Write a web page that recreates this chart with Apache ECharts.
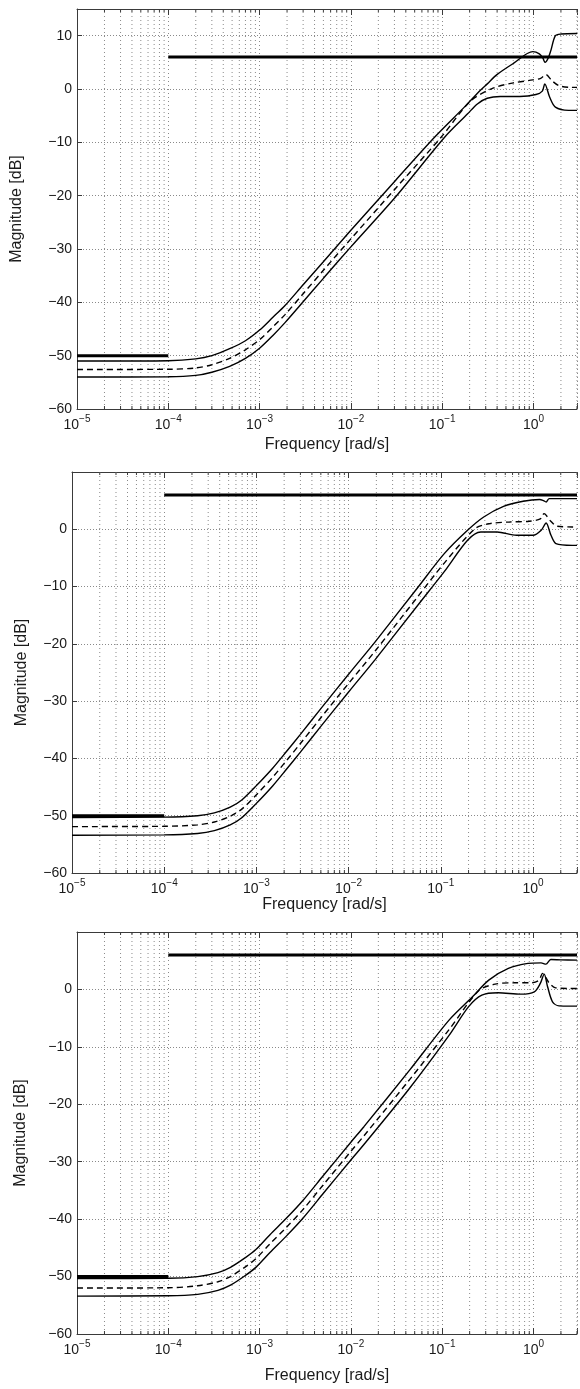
<!DOCTYPE html>
<html><head><meta charset="utf-8">
<script src="https://cdn.jsdelivr.net/npm/echarts@6/dist/echarts.min.js"></script>
<style>html,body{margin:0;padding:0;background:#fff}#c{width:580px;height:1389px}</style>
</head><body><div id="c"></div>
<script>
// ---- axis definitions ----
const xDecades = [1e-5, 1e-4, 1e-3, 1e-2, 1e-1, 1e0];
const minorMultipliers = [2, 3, 4, 5, 6, 7, 8, 9];
const freqMin = 1e-5, freqMax = 3;
const yMin = -60;
const yStep = 10;

// ---- bounds (thick lines) ----
const boundHigh = [[1e-4, 6], [3, 6]];
const boundLow = [[1e-5, -50], [1e-4, -50]];

// ---- panel 1 ----
const p1Upper = [[1e-5,-51.0],[3e-5,-51.0],[1e-4,-50.95],[2e-4,-50.6],[3e-4,-50.0],[4.7e-4,-48.7],[7e-4,-47.2],[1e-3,-45.2],[1.4e-3,-42.8],[1.9e-3,-40.6],[3e-3,-36.7],[5e-3,-32.4],[1e-2,-26.5],[3.1e-2,-17.1],[8.3e-2,-9.0],[0.175,-3.4],[0.264,-0.2],[0.312,0.96],[0.398,2.7],[0.603,4.8],[0.984,7.0],[1.16,6.6],[1.27,5.8],[1.34,5.0],[1.45,5.8],[1.55,7.2],[1.74,10.0],[2.0,10.3],[3.0,10.4]];
const p1Nominal = [[1e-5,-52.6],[1e-4,-52.55],[2e-4,-52.3],[3e-4,-51.7],[4.7e-4,-50.5],[7e-4,-48.9],[1e-3,-47.0],[1.4e-3,-44.6],[1.9e-3,-42.3],[3e-3,-38.4],[5e-3,-34.0],[1e-2,-28.1],[3.1e-2,-18.6],[9.8e-2,-9.0],[0.206,-2.2],[0.366,0.2],[0.603,1.15],[0.984,1.7],[1.2,2.0],[1.368,2.7],[1.585,1.6],[1.892,0.64],[2.43,0.33],[3.0,0.3]];
const p1Lower = [[1e-5,-54.0],[1e-4,-53.95],[2e-4,-53.7],[3e-4,-53.1],[4.7e-4,-52.0],[7e-4,-50.5],[1e-3,-48.6],[1.4e-3,-46.2],[1.9e-3,-43.8],[3e-3,-39.9],[5e-3,-35.5],[1e-2,-29.6],[3.1e-2,-20.2],[0.107,-9.0],[0.19,-4.66],[0.243,-2.8],[0.312,-1.73],[0.433,-1.4],[0.708,-1.4],[1.067,-1.04],[1.25,-0.4],[1.33,0.96],[1.507,-1.55],[1.738,-3.4],[2.43,-4.0],[3.0,-4.0]];

// ---- panel 2 ----
const p2Upper = [[1e-5,-50.3],[1e-4,-50.25],[2.3e-4,-50.0],[3.5e-4,-49.5],[5.2e-4,-48.5],[7e-4,-47.2],[1.02e-3,-44.6],[1.5e-3,-41.7],[2.14e-3,-38.7],[3e-3,-35.8],[5e-3,-31.3],[1e-2,-25.3],[1.95e-2,-19.6],[5.6e-2,-10.2],[0.109,-4.25],[0.195,-0.17],[0.292,2.15],[0.479,4.0],[0.782,4.9],[1.18,5.2],[1.3,5.0],[1.387,4.77],[1.5,5.35],[2.0,5.35],[3.0,5.35]];
const p2Nominal = [[1e-5,-51.9],[1e-4,-51.85],[2.3e-4,-51.6],[3.5e-4,-51.1],[5.2e-4,-50.1],[7e-4,-48.8],[1.02e-3,-46.2],[1.5e-3,-43.3],[2.14e-3,-40.3],[3e-3,-37.4],[5e-3,-32.9],[1e-2,-26.9],[1.95e-2,-21.2],[5.6e-2,-11.8],[0.109,-5.9],[0.236,0.12],[0.341,0.99],[0.558,1.28],[0.912,1.4],[1.2,1.8],[1.318,2.73],[1.549,1.45],[1.828,0.52],[2.67,0.41],[3.0,0.4]];
const p2Lower = [[1e-5,-53.4],[1e-4,-53.35],[2.3e-4,-53.1],[3.5e-4,-52.6],[5.2e-4,-51.6],[7e-4,-50.3],[1.02e-3,-47.7],[1.5e-3,-44.8],[2.14e-3,-41.8],[3e-3,-38.9],[5e-3,-34.4],[1e-2,-28.4],[1.95e-2,-22.7],[5.6e-2,-13.3],[0.109,-7.4],[0.195,-1.92],[0.271,-0.47],[0.407,-0.47],[0.664,-1.05],[1.0,-1.05],[1.227,-0.17],[1.387,1.1],[1.567,-1.05],[1.774,-2.5],[2.67,-2.8],[3.0,-2.8]];

// ---- panel 3 ----
const p3Upper = [[1e-5,-50.35],[1e-4,-50.3],[2.1e-4,-50.0],[3.5e-4,-49.3],[4.8e-4,-48.4],[7e-4,-46.7],[9.1e-4,-45.3],[1.3e-3,-42.7],[1.95e-3,-39.9],[3e-3,-36.7],[5e-3,-32.4],[1e-2,-26.6],[1.39e-2,-23.9],[4.4e-2,-14.06],[0.119,-5.35],[0.215,-1.29],[0.324,1.62],[0.531,3.66],[0.871,4.53],[1.21,4.63],[1.37,4.4],[1.55,5.2],[2.0,5.15],[3.0,5.1]];
const p3Nominal = [[1e-5,-52.0],[1e-4,-51.95],[2.1e-4,-51.6],[3.5e-4,-50.9],[4.8e-4,-50.0],[7e-4,-48.3],[9.1e-4,-46.9],[1.3e-3,-44.3],[1.95e-3,-41.5],[3e-3,-38.3],[5e-3,-34.0],[1e-2,-28.2],[1.39e-2,-25.5],[4.4e-2,-15.7],[0.119,-7.0],[0.251,-0.24],[0.38,0.92],[0.617,1.15],[0.944,1.15],[1.15,1.6],[1.259,2.79],[1.483,1.15],[1.75,0.28],[2.54,0.17],[3.0,0.17]];
const p3Lower = [[1e-5,-53.4],[1e-4,-53.35],[2.1e-4,-53.1],[3.5e-4,-52.4],[4.8e-4,-51.5],[7e-4,-49.8],[9.1e-4,-48.4],[1.3e-3,-45.8],[1.95e-3,-43.0],[3e-3,-39.8],[5e-3,-35.5],[1e-2,-29.7],[1.39e-2,-27.0],[4.4e-2,-17.2],[0.119,-8.0],[0.195,-3.0],[0.272,-1.0],[0.41,-0.58],[0.73,-0.82],[1.023,-0.41],[1.189,1.05],[1.312,2.67],[1.429,0.46],[1.618,-2.15],[1.905,-2.86],[2.54,-2.9],[3.0,-2.9]];

const FONT = '"Liberation Sans", Arial, Helvetica, sans-serif';
const TXT = '#1a1a1a';
const AXC = '#3a3a3a';
const GRIDC = '#8a8a8a';
const TICK_FS = 14, NAME_FS = 16;

const panels = [
  {upper: p1Upper, nominal: p1Nominal, lower: p1Lower, yMax: 15, grid: {left: 77, top: 9, width: 511.6, height: 400}, gapY: 52, gapX: 28},
  {upper: p2Upper, nominal: p2Nominal, lower: p2Lower, yMax: 10, grid: {left: 72, top: 472, width: 512.6, height: 401}, gapY: 42, gapX: 24},
  {upper: p3Upper, nominal: p3Nominal, lower: p3Lower, yMax: 10, grid: {left: 77, top: 932, width: 510, height: 402}, gapY: 48, gapX: 34}
];

const minorFreqs = [];
xDecades.forEach(d => minorMultipliers.forEach(m => { const f = d * m; if (f <= freqMax) minorFreqs.push(f); }));

function xLabel(v) {
  const l = Math.log10(v), e = Math.round(l);
  if (Math.abs(l - e) > 1e-6) return '';
  return '{b|10}{s|' + (e < 0 ? '\u2212' + (-e) : String(e)) + '}';
}

const grids = [], xAxes = [], yAxes = [], series = [];
panels.forEach((p, i) => {
  grids.push(Object.assign({containLabel: false}, p.grid));
  xAxes.push({
    type: 'log', logBase: 10, gridIndex: i, min: freqMin, max: freqMax, position: 'bottom',
    axisLine: {show: true, onZero: false, lineStyle: {color: AXC, width: 1}},
    axisTick: {show: true, inside: true, length: 6, lineStyle: {color: AXC}},
    axisLabel: {margin: 5, formatter: xLabel, rich: {
      b: {fontSize: TICK_FS, fontFamily: FONT, color: TXT, lineHeight: 22},
      s: {fontSize: 10, fontFamily: FONT, color: TXT, lineHeight: 10, verticalAlign: 'top'}
    }},
    splitLine: {show: true, lineStyle: {color: GRIDC, width: 1, type: [1, 3]}},
    name: 'Frequency [rad/s]', nameLocation: 'middle', nameGap: p.gapX,
    nameTextStyle: {fontSize: NAME_FS, fontFamily: FONT, color: TXT}
  });
  xAxes.push({
    type: 'log', logBase: 10, gridIndex: i, min: freqMin, max: freqMax, position: 'top',
    axisLine: {show: true, onZero: false, lineStyle: {color: AXC, width: 1}},
    axisTick: {show: true, inside: true, length: 6, lineStyle: {color: AXC}},
    axisLabel: {show: false}, splitLine: {show: false}
  });
  yAxes.push({
    type: 'value', gridIndex: i, min: yMin, max: p.yMax, interval: yStep,
    axisLine: {show: true, onZero: false, lineStyle: {color: AXC, width: 1}},
    axisTick: {show: true, inside: true, length: 5, lineStyle: {color: AXC}},
    axisLabel: {margin: 5, fontSize: TICK_FS, fontFamily: FONT, color: TXT,
      formatter: v => (v === p.yMax ? '' : (v < 0 ? '\u2212' + (-v) : String(v)))},
    splitLine: {show: true, lineStyle: {color: GRIDC, width: 1, type: [1, 2]}},
    name: 'Magnitude [dB]', nameLocation: 'middle', nameGap: p.gapY,
    nameTextStyle: {fontSize: NAME_FS, fontFamily: FONT, color: TXT}
  });
  const xi = 2 * i, yi = i;
  const tickLen = 3 * (p.yMax - yMin) / p.grid.height;
  const gridData = [], tickData = [];
  minorFreqs.forEach(f => {
    gridData.push([f, yMin], [f, p.yMax], [f, '-']);
    tickData.push([f, yMin], [f, yMin + tickLen], [f, '-'], [f, p.yMax], [f, p.yMax - tickLen], [f, '-']);
  });
  series.push({
    type: 'line', xAxisIndex: xi, yAxisIndex: yi, data: gridData, silent: true, z: 1, animation: false,
    showSymbol: false, symbol: 'none', connectNulls: false,
    lineStyle: {color: GRIDC, width: 1, type: [1, 3]}
  });
  series.push({
    type: 'line', xAxisIndex: xi, yAxisIndex: yi, data: tickData, silent: true, z: 2, animation: false,
    showSymbol: false, symbol: 'none', connectNulls: false,
    lineStyle: {color: AXC, width: 1}
  });
  const curve = (data, dashed) => ({
    type: 'line', xAxisIndex: xi, yAxisIndex: yi, data: data, showSymbol: false, symbol: 'none',
    smooth: 0.3, z: 3, animation: false, silent: true,
    lineStyle: {color: '#000', width: 1.4, type: dashed ? [6, 4] : 'solid'}
  });
  series.push(curve(p.upper, false), curve(p.nominal, true), curve(p.lower, false));
  const bound = data => ({
    type: 'line', xAxisIndex: xi, yAxisIndex: yi, data: data, showSymbol: false, symbol: 'none',
    z: 4, animation: false, silent: true, lineStyle: {color: '#000', width: 3}
  });
  series.push(bound(boundHigh), bound(boundLow));
});

const chart = echarts.init(document.getElementById('c'), null, {renderer: 'canvas'});
chart.setOption({
  backgroundColor: '#fff', animation: false,
  grid: grids, xAxis: xAxes, yAxis: yAxes, series: series
});
</script></body></html>
